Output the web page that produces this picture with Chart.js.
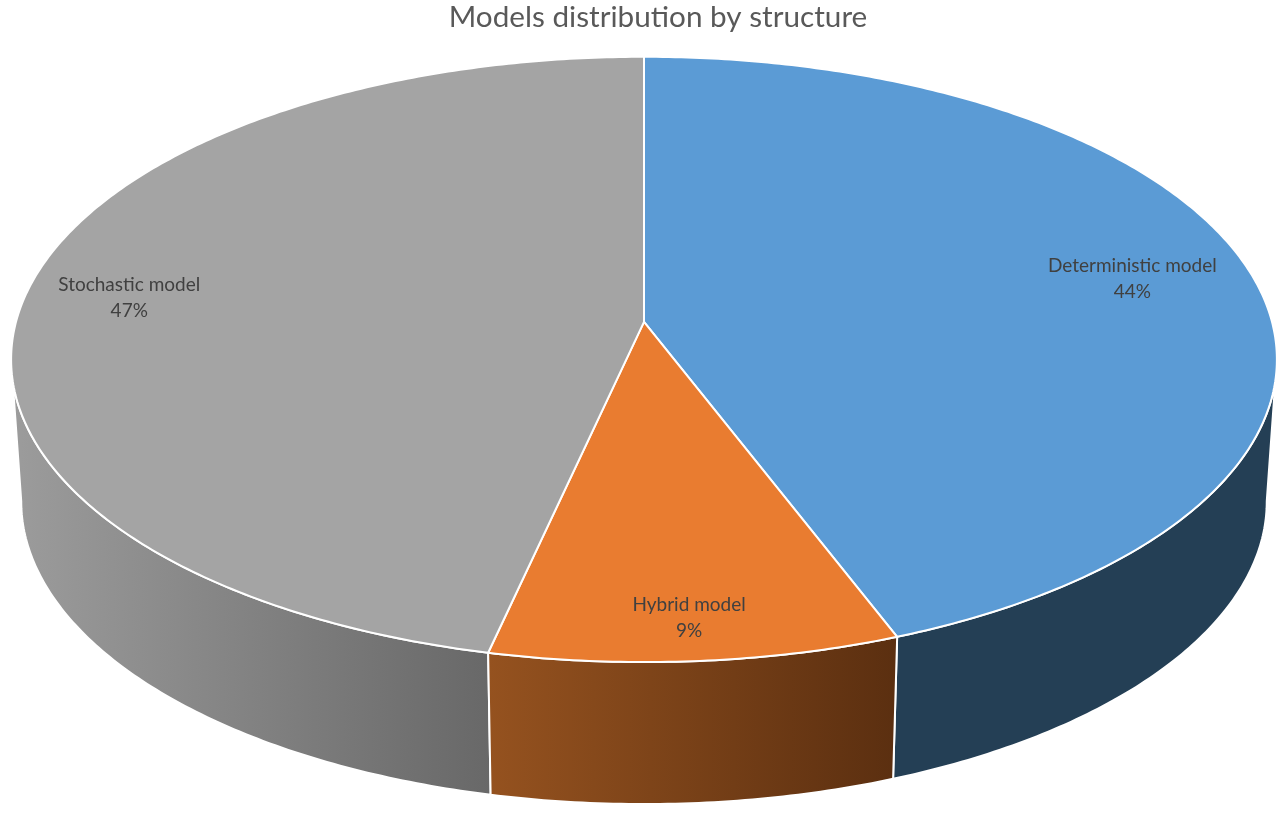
<!DOCTYPE html>
<html>
<head>
<meta charset="utf-8">
<title>Models distribution by structure</title>
<script src="https://cdn.jsdelivr.net/npm/chart.js@4"></script>
<style>
  html, body { margin: 0; padding: 0; background: #fff; }
  canvas { display: block; }
</style>
</head>
<body>
<canvas id="pie" width="1280" height="814"></canvas>
<script>
// values, the printed labels are these rounded
var categories = ['Deterministic model', 'Hybrid model', 'Stochastic model'];
var shares = [44.2, 9.3, 46.5];
var topColors = ['#5b9bd5', '#e97c30', '#a4a4a4'];
var wallLight = ['#243f55', '#95521f', '#9c9c9c'];
var wallDark = ['#243f55', '#5b2f10', '#686868'];
var labelReach = [0.805, 0.886, 0.834];
var labelDrop = [0, 0, 3];

// how the flat pie is tilted: half axes, perspective, thickness
// dx: the title sits right of the pie centre, the layout padding is set for the title
var tilt = { rx: 628, ry: 298, persp: -0.124, depth: 142, shrink: 0.984, dx: -14 };

function rimPoint(el, angle, reach, lower) {
    var u = reach * Math.cos(angle);
    var v = reach * Math.sin(angle);
    var w = 1 + tilt.persp * v;
    var s = lower ? tilt.shrink : 1;
    return {
        x: el.x + tilt.dx + s * tilt.rx * u / w,
        y: el.y + tilt.ry * v / w + (lower ? tilt.depth : 0)
    };
}

function rimAngles(from, to) {
    var list = [];
    var n = Math.max(2, Math.ceil(Math.abs(to - from) * 90));
    for (var i = 0; i <= n; i++) list.push(from + (to - from) * i / n);
    return list;
}

function drawWall(ctx, el, i) {
    // only the part of the rim facing the viewer
    var edge = Math.asin(-tilt.persp);
    var from = Math.max(el.startAngle, edge);
    var to = Math.min(el.endAngle, Math.PI - edge);
    if (to <= from) return;
    var angles = rimAngles(from, to);
    var upper = angles.map(function(a) { return rimPoint(el, a, 1, false); });
    var lower = angles.map(function(a) { return rimPoint(el, a, 1, true); }).reverse();
    var pts = upper.concat(lower);
    var xs = pts.map(function(p) { return p.x; });
    var grad = ctx.createLinearGradient(Math.min.apply(null, xs), 0, Math.max.apply(null, xs), 0);
    grad.addColorStop(0, wallLight[i]);
    grad.addColorStop(1, wallDark[i]);
    ctx.beginPath();
    pts.forEach(function(p, k) { k ? ctx.lineTo(p.x, p.y) : ctx.moveTo(p.x, p.y); });
    ctx.closePath();
    ctx.fillStyle = grad;
    ctx.fill();
    ctx.stroke();
}

function drawTop(ctx, el) {
    ctx.beginPath();
    ctx.moveTo(el.x + tilt.dx, el.y);
    rimAngles(el.startAngle, el.endAngle).forEach(function(a) {
        var p = rimPoint(el, a, 1, false);
        ctx.lineTo(p.x, p.y);
    });
    ctx.closePath();
    ctx.fillStyle = el.options.backgroundColor;
    ctx.fill();
    ctx.stroke();
}

var tiltedPie = {
    id: 'tiltedPie',
    beforeDatasetsDraw: function(chart) {
        var ctx = chart.ctx;
        var arcs = chart.getDatasetMeta(0).data;
        ctx.save();
        ctx.strokeStyle = '#fff';
        ctx.lineWidth = 2;
        ctx.lineJoin = 'round';
        [0, 2, 1].forEach(function(i) { drawWall(ctx, arcs[i], i); });
        arcs.forEach(function(el) { drawTop(ctx, el); });

        ctx.fillStyle = '#404040';
        ctx.font = '19px Lato';
        ctx.textAlign = 'center';
        ctx.textBaseline = 'middle';
        arcs.forEach(function(el, i) {
            var p = rimPoint(el, (el.startAngle + el.endAngle) / 2, labelReach[i], false);
            ctx.fillText(categories[i], p.x, p.y + labelDrop[i] - 13);
            ctx.fillText(Math.round(shares[i]) + '%', p.x, p.y + labelDrop[i] + 13);
        });
        ctx.restore();
        return false;
    }
};

new Chart(document.getElementById('pie'), {
    type: 'pie',
    data: {
        labels: categories,
        datasets: [{ data: shares, backgroundColor: topColors, borderWidth: 0 }]
    },
    plugins: [tiltedPie],
    options: {
        responsive: false,
        animation: false,
        layout: { padding: { left: 36, bottom: 204 } },
        plugins: {
            legend: { display: false },
            tooltip: { enabled: false },
            title: {
                display: true,
                text: 'Models distribution by structure',
                color: '#595959',
                padding: { top: 2, bottom: 0 },
                font: { family: 'Lato', size: 29.7, weight: 'normal', lineHeight: 1.07 }
            }
        }
    }
});
</script>
</body>
</html>
